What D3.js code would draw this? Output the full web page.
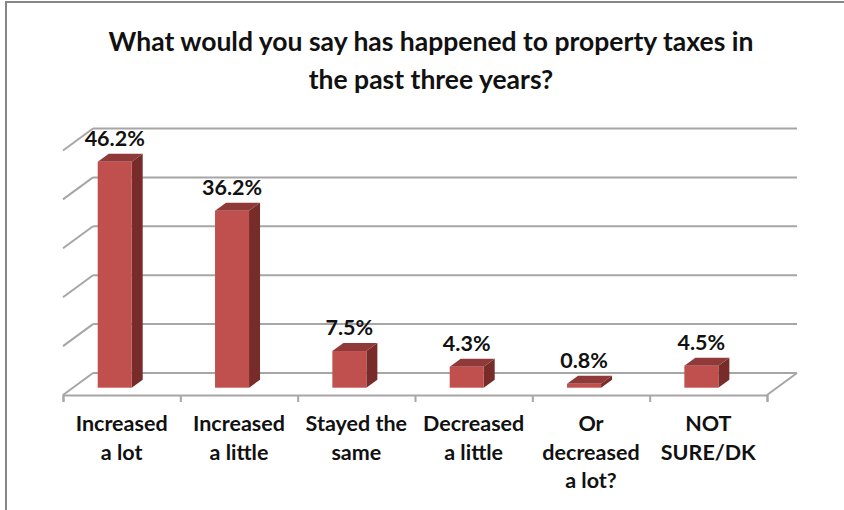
<!DOCTYPE html>
<html>
<head>
<meta charset="utf-8">
<script src="https://cdn.jsdelivr.net/npm/d3@7"></script>
<style>
  html, body { margin: 0; padding: 0; background: #fff; }
  svg { display: block; }
  text { font-family: Lato, sans-serif; font-weight: 700; fill: #111; text-anchor: middle; }
</style>
</head>
<body>
<svg id="chart" width="844" height="510"></svg>
<script>
const titleLines = ["What would you say has happened to property taxes in", "the past three years?"];
const categories = ["Increased a lot", "Increased a little", "Stayed the same", "Decreased a little", "Or decreased a lot?", "NOT SURE/DK"];
const categoryLines = [["Increased", "a lot"], ["Increased", "a little"], ["Stayed the", "same"], ["Decreased", "a little"], ["Or", "decreased", "a lot?"], ["NOT", "SURE/DK"]];
const values = [46.2, 36.2, 7.5, 4.3, 0.8, 4.5];
const gridTicks = [0, 10, 20, 30, 40, 50];

const svg = d3.select("#chart");

// plot geometry, floor front edge and how far the back wall is pushed
const left = 63, right = 767, floorY = 395;
const depthX = 30, depthY = 22;
const barDepthX = 11, barDepthY = 8;
const barW = 34;

const x = d3.scaleBand().domain(categories).range([left, right]);
const y = d3.scaleLinear().domain([0, 50]).range([floorY - depthY, floorY - depthY - 244.5]);
const barBase = 387.7;
const barH = v => y(0) - y(v);
const barX = d => x(d) + 34.7;

// outer frame, only top and left show
svg.append("path")
  .attr("d", "M844,2H6V510")
  .attr("fill", "none")
  .attr("stroke", "#868686")
  .attr("stroke-width", 2);

svg.append("g").selectAll("text").data(titleLines)
  .enter().append("text")
    .attr("x", 431)
    .attr("y", (d, i) => 51 + i * 38)
    .attr("font-size", 26.5)
    .text(d => d);

// back wall gridlines and the slanted side wall lines
const grid = svg.append("g")
  .attr("fill", "none")
  .attr("stroke", "#a6a6a6")
  .attr("stroke-width", 2);

grid.selectAll(".back").data(gridTicks)
  .enter().append("line")
    .attr("class", "back")
    .attr("x1", left + depthX)
    .attr("x2", right + depthX)
    .attr("y1", d => y(d))
    .attr("y2", d => y(d));

grid.selectAll(".side").data(gridTicks)
  .enter().append("line")
    .attr("class", "side")
    .attr("x1", left)
    .attr("x2", left + depthX)
    .attr("y1", d => y(d) + depthY)
    .attr("y2", d => y(d));

grid.append("line")
  .attr("x1", right)
  .attr("x2", right + depthX)
  .attr("y1", floorY)
  .attr("y2", floorY - depthY);

// floor edge with tick marks
const edges = d3.scaleLinear().domain([0, categories.length]).range([left, right]);
const axisG = svg.append("g")
  .attr("transform", `translate(0,${floorY})`)
  .call(d3.axisBottom(edges).ticks(categories.length).tickSizeOuter(0).tickSize(7).tickFormat(""));
axisG.selectAll("path, line").attr("stroke", "#a6a6a6").attr("stroke-width", 2);

// bars: side, top, then front face
const bars = svg.append("g").selectAll("g").data(categories)
  .enter().append("g");

bars.append("path")
  .attr("fill", "#772c2a")
  .attr("d", (d, i) => {
    const x1 = barX(d) + barW, top = barBase - barH(values[i]);
    return `M${x1},${barBase}V${top}l${barDepthX},${-barDepthY}V${barBase - barDepthY}Z`;
  });

bars.append("path")
  .attr("fill", "#8f3a38")
  .attr("d", (d, i) => {
    const top = barBase - barH(values[i]);
    return `M${barX(d)},${top}l${barDepthX},${-barDepthY}h${barW}l${-barDepthX},${barDepthY}Z`;
  });

bars.append("rect")
  .attr("fill", "#c0504d")
  .attr("x", d => barX(d))
  .attr("width", barW)
  .attr("y", (d, i) => barBase - barH(values[i]))
  .attr("height", (d, i) => barH(values[i]));

bars.append("text")
  .attr("x", d => barX(d) + barW / 2)
  .attr("y", (d, i) => barBase - barH(values[i]) - 16)
  .attr("font-size", 21.5)
  .text((d, i) => values[i].toFixed(1) + "%");

// category labels
const labels = svg.append("g").selectAll("text").data(categories)
  .enter().append("text")
    .attr("font-size", 21.5);

labels.selectAll("tspan").data((d, i) => categoryLines[i].map(line => ({ d, line })))
  .enter().append("tspan")
    .attr("x", v => x(v.d) + x.bandwidth() / 2)
    .attr("y", (v, i) => 431 + i * 28.5)
    .text(v => v.line);
</script>
</body>
</html>
